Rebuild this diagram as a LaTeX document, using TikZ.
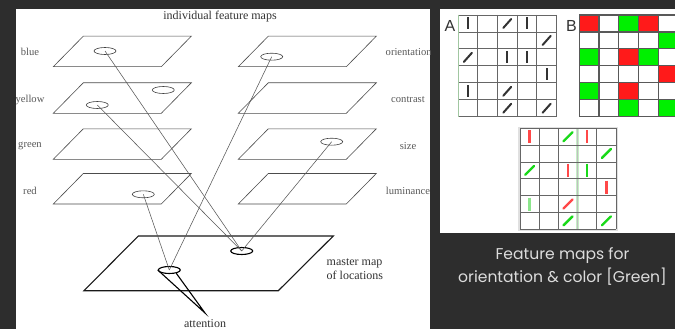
\documentclass[tikz,border=0pt]{standalone}
\usepackage{fontspec}
\setmainfont{Liberation Serif}
\newfontfamily\capfont{Poppins}
\newfontfamily\letterfont{Liberation Sans}
\usetikzlibrary{shapes.geometric}
\definecolor{slate}{HTML}{2D2D2D}
\definecolor{cellred}{HTML}{FF1A1A}
\definecolor{cellgreen}{HTML}{00F000}
\definecolor{barred}{HTML}{FF4848}
\definecolor{bargreen}{HTML}{19D919}
\definecolor{palegreen}{HTML}{8CE68C}
\definecolor{haze}{HTML}{C6EEC6}
\definecolor{captiongray}{HTML}{DCDCDC}
\tikzset{
  mapedge/.style={draw=black!70, line width=0.6pt, line join=miter},
  masteredge/.style={draw=black!90, line width=1.1pt, line join=miter},
  spot/.style={ellipse, draw=black!75, line width=0.6pt, minimum width=22pt, minimum height=7pt, inner sep=0pt},
  mainspot/.style={spot, draw=black, line width=1.1pt},
  link/.style={draw=black!65, line width=0.55pt},
  cone/.style={draw=black, line width=1.1pt},
  sidelabel/.style={font=\fontsize{10.6}{12}\selectfont, text=black!65, inner sep=0pt},
  biglabel/.style={font=\fontsize{12}{14}\selectfont, text=black!80, inner sep=0pt},
  gridline/.style={draw=black!60, line width=0.8pt},
  gridlineB/.style={draw=black!65, line width=1.2pt},
  darkbar/.style={draw=black!80, line width=2pt},
  fmap/.pic={\draw[mapedge] (0,0) -- (108,0) -- (138,-30.5) -- (30,-30.5) -- cycle;}
}
\begin{document}
\begin{tikzpicture}[x=1pt,y=-1pt]
\useasboundingbox (0,0) rectangle (675,329);
\fill[slate] (0,0) rectangle (675,329);
\fill[white] (16,9) rectangle (430,329);
\fill[white] (440,9) rectangle (675,233);

% ---------------- feature maps and master map ----------------
\begin{scope}
\clip (16,9) rectangle (430,329);
\node[biglabel] (title) at (220,17) {individual feature maps};

% feature map planes, left and right columns
\foreach \yb in {66.7,113.3,159.3,204}{
  \pic at (53.3,\yb) {fmap};
  \pic at (238.3,\yb) {fmap};
}
% master map of locations
\draw[masteredge] (84,290.7) -- (278.3,290.7) -- (333.3,236) -- (138.3,236) -- cycle;

% map labels
\node[sidelabel] (lblue)   at (30,52)   {blue};
\node[sidelabel] (lyellow) at (30,99.5) {yellow};
\node[sidelabel] (lgreen)  at (30,146)  {green};
\node[sidelabel] (lred)    at (30,191)  {red};
\node[sidelabel, anchor=west] (lori) at (385.5,52) {orientation};
\node[sidelabel] (lcon)    at (408,99.5) {contrast};
\node[sidelabel] (lsize)   at (408,146)  {size};
\node[sidelabel] (llum)    at (408,191)  {luminance};
\node[biglabel, align=left, anchor=west] (lmaster) at (326.5,269) {master map\\of locations};

% feature spots
\node[spot] (eBlue)  at (105,51)     {};
\node[spot] (eYelA)  at (163.3,90)   {};
\node[spot] (eYelB)  at (97.3,105)   {};
\node[spot] (eRed)   at (143.3,194.3){};
\node[spot] (eOri)   at (271.7,56.7) {};
\node[spot] (eSize)  at (331.7,141.7){};
\node[mainspot] (eMaster) at (241.7,251) {};
\node[mainspot] (eAtt)    at (169.3,270) {};

% links from feature maps down to the master map
\draw[link] (eBlue.center) -- (eMaster.center);
\draw[link] (eYelB.center) -- (eMaster.center);
\draw[link] (eSize.center) -- (eMaster.center);
\draw[link] (eRed.center)  -- (eAtt.center);
\draw[link] (eOri.center)  -- (eAtt.center);

% attention cone
\coordinate (apex) at (205,313);
\draw[cone] (eAtt.west) -- (apex) -- (eAtt.-25);
\node[biglabel] (latt) at (205,323.5) {attention};
\end{scope}

% ---------------- grid A: orientation ----------------
\node[font=\letterfont\fontsize{16}{18}\selectfont, text=black!80, inner sep=0pt] (labA) at (450,25.5) {A};
\node[font=\letterfont\fontsize{16}{18}\selectfont, text=black!80, inner sep=0pt] (labB) at (571.5,25.5) {B};

\foreach \i in {0,...,5} \draw[gridline] (458+\i*19.7,15) -- (458+\i*19.7,116.7);
\foreach \j in {0,...,6} \draw[gridline] (458,15+\j*16.95) -- (556.5,15+\j*16.95);
\draw[draw=palegreen!70!black!60, line width=0.8pt] (458,15) -- (458,116.7);
\foreach \c/\r in {1/1,4/1,3/3,4/3,5/4,1/5}
  \draw[darkbar] (458+\c*19.7-9.85,15+\r*16.95-8.47-6) -- ++(0,12);
\foreach \c/\r in {3/1,5/2,1/3,3/5,3/6,5/6}
  \draw[darkbar, line cap=round] (458+\c*19.7-9.85-4,15+\r*16.95-8.47+4.5) -- ++(8,-9);

% ---------------- grid B: colour ----------------
\begin{scope}
\clip (440,9) rectangle (675,233);
\foreach \c/\r in {1/1,4/1,3/3,5/4,3/5}
  \fill[cellred] (579.3+\c*19.7-19.7,15+\r*16.95-16.95) rectangle ++(19.7,16.95);
\foreach \c/\r in {3/1,5/2,1/3,4/3,1/5,3/6,5/6}
  \fill[cellgreen] (579.3+\c*19.7-19.7,15+\r*16.95-16.95) rectangle ++(19.7,16.95);
\foreach \i in {0,...,5} \draw[gridlineB] (579.3+\i*19.7,15) -- (579.3+\i*19.7,116.7);
\foreach \j in {0,...,6} \draw[gridlineB] (579.3,15+\j*16.95) -- (680,15+\j*16.95);
\end{scope}

% ---------------- grid C: orientation and colour ----------------
\draw[black!12, line width=2pt] (518.5,127.5) rectangle (617.3,230.3);
\fill[white] (520,128.3) rectangle (616,229.3);
\fill[haze] (576,128.3) rectangle (579.4,229.3);
\foreach \i in {0,1,2,4,5} \draw[gridline] (520+\i*19.2,128.3) -- (520+\i*19.2,229.3);
\draw[draw=black!25, line width=0.6pt] (577.6,128.3) -- (577.6,229.3);
\foreach \j in {0,...,6} \draw[gridline] (520,128.3+\j*16.83) -- (616,128.3+\j*16.83);
\foreach \c/\r/\col in {1/1/barred,4/1/barred,3/3/barred,4/3/bargreen,5/4/barred,1/5/palegreen}
  \draw[\col, line width=2.3pt] (520+\c*19.2-9.6,128.3+\r*16.83-8.42-6.5) -- ++(0,13);
\foreach \c/\r/\col in {3/1/bargreen,5/2/bargreen,1/3/bargreen,3/5/barred,3/6/bargreen,5/6/bargreen}
  \draw[\col, line width=2.4pt, line cap=round] (520+\c*19.2-9.6-4.5,128.3+\r*16.83-8.42+4.5) -- ++(9,-9);

% ---------------- caption ----------------
\node[font=\capfont\fontsize{15.6}{23}\selectfont, text=captiongray, align=center, inner sep=0pt] (caption) at (562.5,266.5)
  {Feature maps for\\orientation \& color [Green]};
\end{tikzpicture}
\end{document}
